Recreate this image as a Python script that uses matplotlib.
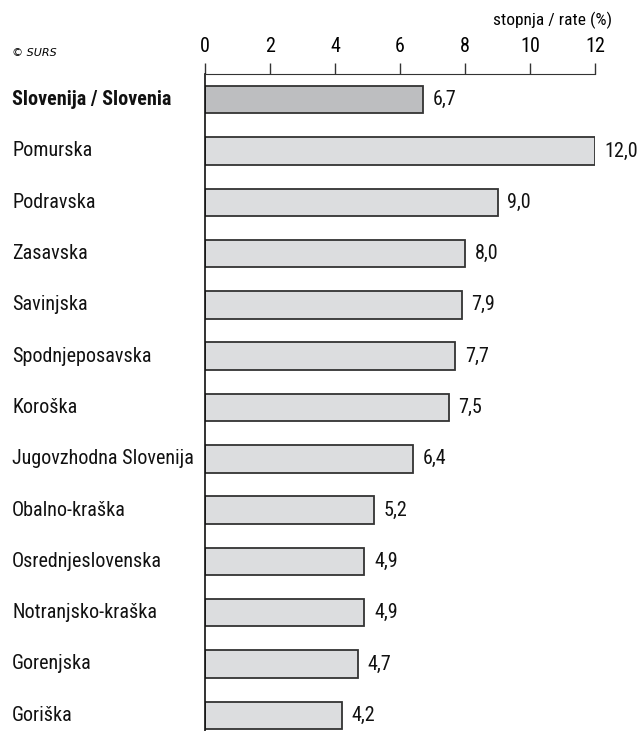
import matplotlib

matplotlib.use("Agg")
import matplotlib.pyplot as plt

regions = [
    "Slovenija / Slovenia",
    "Pomurska",
    "Podravska",
    "Zasavska",
    "Savinjska",
    "Spodnjeposavska",
    "Koroška",
    "Jugovzhodna Slovenija",
    "Obalno-kraška",
    "Osrednjeslovenska",
    "Notranjsko-kraška",
    "Gorenjska",
    "Goriška",
]
rates = [6.7, 12.0, 9.0, 8.0, 7.9, 7.7, 7.5, 6.4, 5.2, 4.9, 4.9, 4.7, 4.2]
xticks = [0, 2, 4, 6, 8, 10, 12]

plt.rcParams["font.family"] = ["Roboto Condensed", "DejaVu Sans"]

W, H = 637, 731
fig = plt.figure(figsize=(W / 100, H / 100), dpi=100)
x0, x1 = 205, 595
y_top, y_bot = 74, 731
ax = fig.add_axes([x0 / W, 1 - y_bot / H, (x1 - x0) / W, (y_bot - y_top) / H])

# row pitch and first row centre, in pixels
pitch, first = 51.3, 99.7

pos = list(range(len(regions)))
colors = ["#bdbec0"] + ["#dcdddf"] * (len(regions) - 1)
ax.barh(pos, rates, height=0.535, color=colors, edgecolor="#333333", linewidth=1.3)

ax.set_xlim(0, 12)
ax.set_ylim((y_bot - first) / pitch, (y_top - first) / pitch)
ax.xaxis.tick_top()
ax.set_xticks(xticks)
ax.set_xticklabels([str(t) for t in xticks], fontsize=14.5)
ax.tick_params(axis="x", direction="out", length=8, width=1, color="#333333", pad=5)
ax.set_yticks([])
for s in ["right", "bottom"]:
    ax.spines[s].set_visible(False)
ax.spines["top"].set_color("#333333")
ax.spines["left"].set_color("#111111")
ax.spines["left"].set_linewidth(1.2)

for i, (name, v) in enumerate(zip(regions, rates)):
    ax.text(-193 / 32.5, i, name, ha="left", va="center", fontsize=14.5,
            fontweight="bold" if i == 0 else "normal", color="#111111")
    ax.text(v + 0.3, i, f"{v:.1f}".replace(".", ","), ha="left", va="center",
            fontsize=14.5, color="#111111")

fig.text(612 / W, 1 - 20 / H, "stopnja / rate (%)", ha="right", va="center", fontsize=12.5)
fig.text(12 / W, 1 - 53 / H, "© SURS", ha="left", va="center", fontsize=8,
         style="italic", family=["DejaVu Sans"])

fig.savefig("out.png", dpi=100)
